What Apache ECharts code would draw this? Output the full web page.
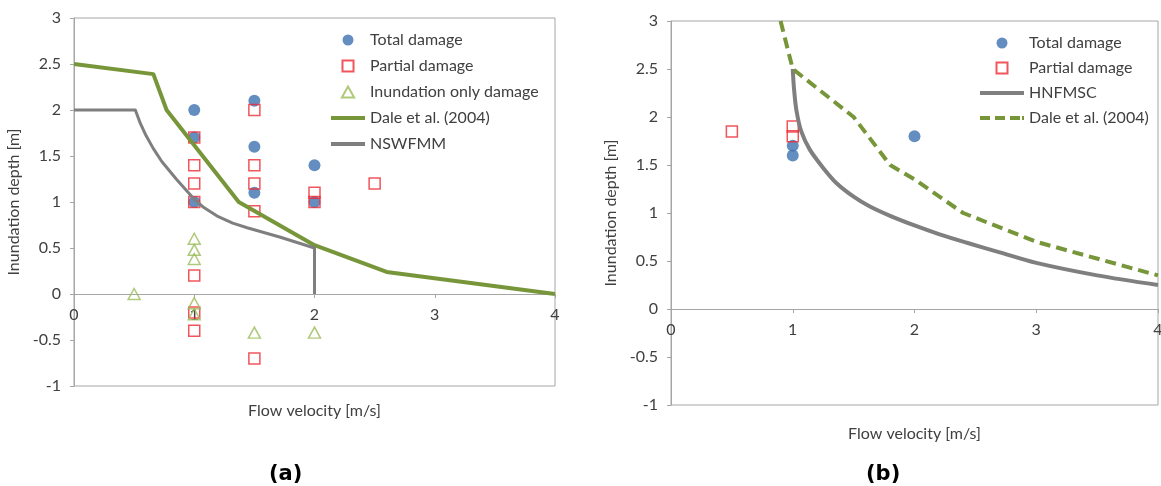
<!DOCTYPE html>
<html>
<head>
<meta charset="utf-8">
<script src="https://cdn.jsdelivr.net/npm/echarts@6/dist/echarts.min.js"></script>
<style>
  html, body { margin: 0; padding: 0; background: #ffffff; }
  #wrap { position: relative; width: 1161px; height: 486px; overflow: hidden; }
  #chartA { position: absolute; left: 0; top: 0; width: 590px; height: 486px; }
  #chartB { position: absolute; left: 590px; top: 0; width: 571px; height: 486px; }
</style>
</head>
<body>
<div id="wrap">
  <div id="chartA"></div>
  <div id="chartB"></div>
</div>
<script>
// ---- Panel (a): observed damage vs. hazard curves ----
const aTotalDamage = [[1, 2.0], [1, 1.7], [1, 1.0], [1.5, 2.1], [1.5, 1.6], [1.5, 1.1], [2, 1.4], [2, 1.0]];
const aPartialDamage = [[1, 1.7], [1, 1.4], [1, 1.2], [1, 1.0], [1, 0.2], [1, -0.2], [1, -0.4],
                        [1.5, 2.0], [1.5, 1.4], [1.5, 1.2], [1.5, 0.9], [1.5, -0.7],
                        [2, 1.1], [2, 1.0], [2.5, 1.2]];
const aInundationOnly = [[0.5, 0], [1, 0.6], [1, 0.48], [1, 0.38], [1, -0.1], [1, -0.22], [1.5, -0.42], [2, -0.42]];
const aDale2004 = [[0, 2.5], [0.66, 2.39], [0.77, 2.0], [1.37, 1.0], [2.0, 0.53], [2.6, 0.24], [4.0, 0.0]];
const aNSWFMM = [[0, 2.0], [0.51, 2.0], [0.55, 1.86], [0.6, 1.72], [0.66, 1.58], [0.73, 1.44], [0.85, 1.25],
                 [1.0, 1.03], [1.08, 0.94], [1.2, 0.84], [1.32, 0.77], [1.44, 0.72], [1.71, 0.62],
                 [2.0, 0.5], [2.0, 0.0]];

// ---- Panel (b) ----
const bTotalDamage = [[1, 1.7], [1, 1.6], [2, 1.8]];
const bPartialDamage = [[0.5, 1.85], [1, 1.9], [1, 1.8]];
const bHNFMSC = [[1.0, 2.5], [1.01, 2.3], [1.03, 2.07], [1.07, 1.85], [1.14, 1.66], [1.25, 1.47], [1.36, 1.31],
                 [1.5, 1.17], [1.63, 1.07], [1.8, 0.97], [2.0, 0.87], [2.2, 0.78], [2.43, 0.69],
                 [2.7, 0.59], [3.0, 0.48], [3.5, 0.35], [4.0, 0.25]];
const bDale2004 = [[0.9, 3.0], [1.0, 2.5], [1.5, 2.0], [1.8, 1.5], [2.0, 1.35], [2.4, 1.0], [3.0, 0.7], [4.0, 0.35]];

// ---- Axis ranges / labels ----
const velocityRange = [0, 4];
const depthRange = [-1, 3];
const velocityTitle = 'Flow velocity [m/s]';
const depthTitle = 'Inundation depth [m]';

const FONT = 'Lato, "Open Sans", sans-serif';
const FS = 16;
const TXT = '#404040';
const AXIS = '#a6a6a6';
const BLUE = '#3f72b0';
const RED = '#ec2a33';
const OLIVE = '#9bbb59';
const GREEN = '#77963a';
const GREY = '#7f7f7f';

// Legend glyphs (kept at their own aspect ratio inside the legend box)
const ICON_SQUARE = 'path://M0,0H10V10H0Z';
const ICON_TRIANGLE = 'path://M5,0L10,9H0Z';
const ICON_LINE_A = 'path://M0,0H34V4H0Z';
const ICON_LINE_B = 'path://M0,0H44V4H0Z';
const ICON_DASH_B = 'path://M0,0H10V4H0Z M15,0H25V4H15Z M30,0H40V4H30Z M42,0H44V4H42Z';

// The velocity axis sits on depth = 0: shift it up from the bottom of the grid.
function zeroOffset(gridHeight) {
  return -gridHeight * (0 - depthRange[0]) / (depthRange[1] - depthRange[0]);
}

function axes(gridHeight, xGap, yGap) {
  return {
    xAxis: {
      type: 'value', min: velocityRange[0], max: velocityRange[1], interval: 1,
      position: 'bottom', offset: zeroOffset(gridHeight),
      axisLine: { show: true, onZero: false, lineStyle: { color: AXIS, width: 1 } },
      axisTick: { show: true, length: 4, lineStyle: { color: AXIS } },
      axisLabel: { color: TXT, fontSize: FS, fontFamily: FONT, margin: 13, showMinLabel: true, showMaxLabel: true },
      splitLine: { show: false },
      name: velocityTitle, nameLocation: 'middle', nameGap: xGap,
      nameTextStyle: { color: TXT, fontSize: FS, fontFamily: FONT }
    },
    yAxis: {
      type: 'value', min: depthRange[0], max: depthRange[1], interval: 0.5,
      axisLine: { show: true, lineStyle: { color: AXIS, width: 1 } },
      axisTick: { show: true, length: 4, lineStyle: { color: AXIS } },
      axisLabel: { color: TXT, fontSize: FS, fontFamily: FONT, margin: 13 },
      splitLine: { show: false },
      name: depthTitle, nameLocation: 'middle', nameGap: yGap, nameRotate: 90,
      nameTextStyle: { color: TXT, fontSize: FS, fontFamily: FONT }
    }
  };
}

const hollow = (c) => ({ color: 'rgba(255,255,255,0)', borderColor: c, borderWidth: 1.5 });

function panelTitle(text, x) {
  return {
    type: 'text', left: x, top: 464,
    style: { text: text, fill: '#000', font: 'bold 21px "DejaVu Sans", Verdana, sans-serif' }
  };
}

// ---------- Chart (a) ----------
const chartA = echarts.init(document.getElementById('chartA'), null, { renderer: 'canvas' });
const gridA = { left: 74, top: 18, width: 481, height: 368 };
const axA = axes(gridA.height, 109, 46);
chartA.setOption({
  animation: false,
  grid: Object.assign({ show: true, borderColor: AXIS, borderWidth: 1, containLabel: false, outerBoundsMode: 'none' }, gridA),
  xAxis: axA.xAxis,
  yAxis: axA.yAxis,
  legend: {
    orient: 'vertical', left: 331, top: 32, padding: 0, itemWidth: 34, itemHeight: 11, itemGap: 10,
    selectedMode: false,
    textStyle: { color: TXT, fontSize: FS, fontFamily: FONT },
    data: [
      { name: 'Total damage', icon: 'circle' },
      { name: 'Partial damage', icon: ICON_SQUARE },
      { name: 'Inundation only damage', icon: ICON_TRIANGLE },
      { name: 'Dale et al. (2004)', icon: ICON_LINE_A },
      { name: 'NSWFMM', icon: ICON_LINE_A }
    ]
  },
  graphic: [panelTitle('(a)', 269)],
  series: [
    { name: 'Total damage', type: 'scatter', symbol: 'circle', symbolSize: 12,
      itemStyle: { color: BLUE }, data: aTotalDamage },
    { name: 'Partial damage', type: 'scatter', symbol: 'rect', symbolSize: 11,
      itemStyle: hollow(RED), data: aPartialDamage },
    { name: 'Inundation only damage', type: 'scatter', symbol: 'triangle', symbolSize: [12, 11],
      itemStyle: hollow(OLIVE), data: aInundationOnly },
    { name: 'Dale et al. (2004)', type: 'line', symbol: 'none', smooth: false,
      lineStyle: { color: GREEN, width: 4, join: 'round' }, itemStyle: { color: GREEN }, data: aDale2004 },
    { name: 'NSWFMM', type: 'line', symbol: 'none', smooth: false,
      lineStyle: { color: GREY, width: 3, join: 'round' }, itemStyle: { color: GREY }, data: aNSWFMM }
  ]
});

// ---------- Chart (b) ----------
const chartB = echarts.init(document.getElementById('chartB'), null, { renderer: 'canvas' });
const gridB = { left: 81, top: 21, width: 487, height: 384 };
const axB = axes(gridB.height, 117, 46);
chartB.setOption({
  animation: false,
  grid: Object.assign({ show: true, borderColor: AXIS, borderWidth: 1, containLabel: false, outerBoundsMode: 'none' }, gridB),
  xAxis: axB.xAxis,
  yAxis: axB.yAxis,
  legend: {
    orient: 'vertical', left: 390, top: 35, padding: 0, itemWidth: 44, itemHeight: 11, itemGap: 9,
    selectedMode: false,
    textStyle: { color: TXT, fontSize: FS, fontFamily: FONT },
    data: [
      { name: 'Total damage', icon: 'circle' },
      { name: 'Partial damage', icon: ICON_SQUARE },
      { name: 'HNFMSC', icon: ICON_LINE_B },
      { name: 'Dale et al. (2004)', icon: ICON_DASH_B }
    ]
  },
  graphic: [panelTitle('(b)', 276)],
  series: [
    { name: 'Total damage', type: 'scatter', symbol: 'circle', symbolSize: 12,
      itemStyle: { color: BLUE }, data: bTotalDamage },
    { name: 'Partial damage', type: 'scatter', symbol: 'rect', symbolSize: 11,
      itemStyle: hollow(RED), data: bPartialDamage },
    { name: 'HNFMSC', type: 'line', symbol: 'none', smooth: 0.3,
      lineStyle: { color: GREY, width: 4, join: 'round' }, itemStyle: { color: GREY }, data: bHNFMSC },
    { name: 'Dale et al. (2004)', type: 'line', symbol: 'none', smooth: false,
      lineStyle: { color: GREEN, width: 4, type: [11, 6] }, itemStyle: { color: GREEN }, data: bDale2004 }
  ]
});
</script>
</body>
</html>
